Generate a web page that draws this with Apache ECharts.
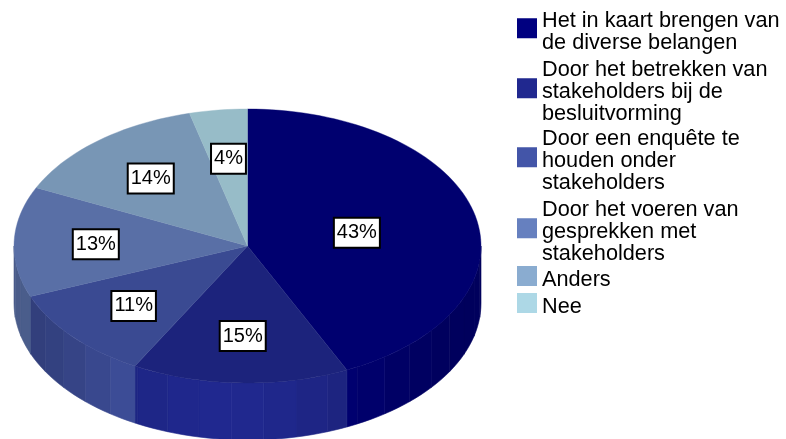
<!DOCTYPE html>
<html><head><meta charset="utf-8">
<style>html,body{margin:0;padding:0;background:#fff}#c{width:786px;height:439px}</style>
<script src="https://cdn.jsdelivr.net/npm/echarts@6/dist/echarts.min.js"></script>
</head><body><div id="c"></div>
<script>
const categories = [
  "Het in kaart brengen van\nde diverse belangen",
  "Door het betrekken van\nstakeholders bij de\nbesluitvorming",
  "Door een enquête te\nhouden onder\nstakeholders",
  "Door het voeren van\ngesprekken met\nstakeholders",
  "Anders",
  "Nee"
];
const values = [43, 15, 11, 13, 14, 4];
const colors = ["#000080", "#20288F", "#4355A8", "#6680BF", "#8AACD0", "#ADD8E6"];
const legendCentres = [32, 92, 161, 232, 280, 307];

const total = values.reduce((a, b) => a + b, 0);
const CX = 247.5, CY = 246, RX = 233.5, RY = 137, DEPTH = 57;
const TOP_SHADE = 0.87, FACET = 8, LINE = 21.7, ICON_H = 28;
const FONT = '"Liberation Sans", Arial, sans-serif';
// square swatch with an empty lower strip, so it sits 4px above the text centre
const ICON = 'path://M0 0L20 0L20 20L0 20ZM0 28L0.01 28L0 28Z';

function shade(hex, f) {
  const n = parseInt(hex.slice(1), 16);
  const c = [n >> 16, (n >> 8) & 255, n & 255].map(v => Math.round(v * f));
  return 'rgb(' + c.join(',') + ')';
}
function pt(deg) {
  const r = deg * Math.PI / 180;
  return [CX + RX * Math.sin(r), CY - RY * Math.cos(r)];
}
function arc(a, b) {
  const out = [];
  const n = Math.max(2, Math.ceil((b - a) / 2));
  for (let i = 0; i <= n; i++) out.push(pt(a + (b - a) * i / n));
  return out;
}
function slice(idx) {
  let before = 0;
  for (let i = 0; i < idx; i++) before += values[i];
  return function (params, api) {
    const v = api.value(0);
    const a0 = before / total * 360, a1 = (before + v) / total * 360;
    const children = [];
    const s0 = Math.max(a0, 90), s1 = Math.min(a1, 270);
    if (s1 > s0) {
      let a = s0;
      while (a < s1 - 1e-6) {
        const next = Math.min(s1, (Math.floor(a / FACET + 1e-6) + 1) * FACET);
        const up = arc(a, next);
        const down = up.map(p => [p[0], p[1] + DEPTH]).reverse();
        const c = Math.cos(((a + next) / 2 - 185) * Math.PI / 180);
        const col = shade(colors[idx], 0.72 + 0.28 * c * c * c * c);
        children.push({ type: 'polygon', shape: { points: up.concat(down) },
          style: { fill: col, stroke: col, lineWidth: 0.6 } });
        a = next;
      }
    }
    const topCol = shade(colors[idx], TOP_SHADE);
    children.push({ type: 'polygon', shape: { points: [[CX, CY]].concat(arc(a0, a1)) },
      style: { fill: topCol, stroke: topCol, lineWidth: 0.4 } });
    const k = v / total > 0.4 ? 0.48 : 0.65;
    const m = (a0 + a1) / 2 * Math.PI / 180;
    children.push({ type: 'text', z2: 100,
      x: CX + RX * k * Math.sin(m), y: CY - RY * k * Math.cos(m) + 1,
      style: { text: v + '%', fill: '#000', font: '20px ' + FONT, align: 'center', verticalAlign: 'middle',
        backgroundColor: '#fff', borderColor: '#000', borderWidth: 2, padding: [4, 2, 4, 2] } });
    return { type: 'group', children };
  };
}

const chart = echarts.init(document.getElementById('c'), null, { renderer: 'canvas' });
chart.setOption({
  animation: false,
  backgroundColor: '#fff',
  legend: categories.map((name, i) => ({
    orient: 'vertical', left: 517, padding: 0,
    top: legendCentres[i] - Math.max(ICON_H, name.split('\n').length * LINE) / 2,
    itemWidth: 20, itemHeight: ICON_H, icon: ICON,
    selectedMode: false,
    data: [name],
    textStyle: { color: '#000', fontFamily: FONT, fontSize: 21.7, lineHeight: LINE }
  })),
  series: categories.map((name, i) => ({
    type: 'custom', name, coordinateSystem: 'none', silent: true,
    itemStyle: { color: colors[i] },
    data: [[values[i]]],
    encode: { value: 0 },
    renderItem: slice(i)
  }))
});
</script></body></html>
